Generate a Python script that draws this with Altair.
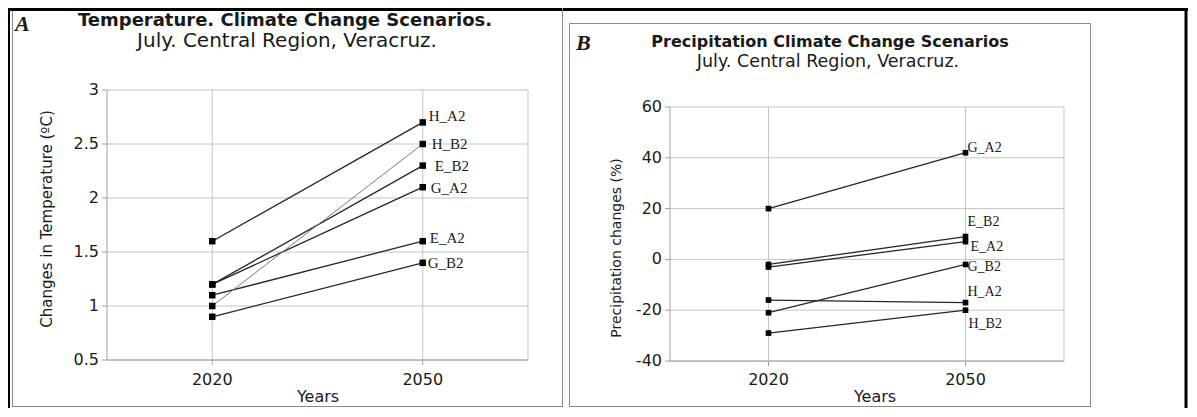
import altair as alt
import pandas as pd

# ---------------- data ----------------
years = [2020, 2050]
year_labels = ["2020", "2050"]

temp_series = ["H_A2", "H_B2", "E_B2", "G_A2", "E_A2", "G_B2"]
temp_2020 = [1.6, 1.0, 1.2, 1.2, 1.1, 0.9]
temp_2050 = [2.7, 2.5, 2.3, 2.1, 1.6, 1.4]
temp_ticks = [0.5, 1, 1.5, 2, 2.5, 3]
temp_tick_labels = ["0.5", "1", "1.5", "2", "2.5", "3"]

prec_series = ["G_A2", "E_B2", "E_A2", "G_B2", "H_A2", "H_B2"]
prec_2020 = [20, -2, -3, -21, -16, -29]
prec_2050 = [42, 9, 7, -2, -17, -20]
prec_ticks = [-40, -20, 0, 20, 40, 60]
prec_tick_labels = ["-40", "-20", "0", "20", "40", "60"]

# ---------------- layout / style ----------------
W, H = 1180, 400
SANS = "DejaVu Sans"
SERIF = "Liberation Serif"
GRID = "#c4c4c4"
AXIS = "#a0a0a0"
BOX = "#8c8c8c"
INK = "#1a1a1a"

temp_label_off = {"H_A2": (6, -6), "H_B2": (9, 0), "E_B2": (12, 0),
                  "G_A2": (8, 1), "E_A2": (7, -3), "G_B2": (5, 0)}
prec_label_off = {"G_A2": (2, -5), "E_B2": (2, -15), "E_A2": (5, 5),
                  "G_B2": (2, 3), "H_A2": (2, -11), "H_B2": (3, 14)}

one = alt.Data(values=[{"a": 1}])


def txt(text, x, y, size, bold=False, italic=False, font=SANS, align="center",
        angle=0, baseline="alphabetic", color=INK):
    return alt.Chart(one).mark_text(
        text=text, fontSize=size, fontWeight="bold" if bold else "normal",
        fontStyle="italic" if italic else "normal", font=font, align=align,
        baseline=baseline, angle=angle, color=color,
    ).encode(x=alt.value(x), y=alt.value(y))


def hrule(x1, x2, y, color, width):
    return alt.Chart(one).mark_rule(color=color, strokeWidth=width).encode(
        x=alt.value(x1), x2=alt.value(x2), y=alt.value(y))


def vrule(x, y1, y2, color, width):
    return alt.Chart(one).mark_rule(color=color, strokeWidth=width).encode(
        x=alt.value(x), y=alt.value(y1), y2=alt.value(y2))


def panel(xr, yr, ydom, ticks, tick_labels, series, v0, v1, offsets,
          label_size, sq, light=None, xlab_y=372):
    xs = alt.Scale(domain=[2005, 2065], range=xr, nice=False, zero=False)
    ys = alt.Scale(domain=ydom, range=yr, nice=False, zero=False)
    L = []
    tick_df = pd.DataFrame({"v": ticks, "lab": tick_labels})
    # horizontal gridlines
    L.append(alt.Chart(tick_df).mark_rule(color=GRID, strokeWidth=1).encode(
        y=alt.Y("v:Q", scale=ys, axis=None),
        x=alt.XDatum(2005, scale=xs, axis=None), x2=alt.X2Datum(2065)))
    # vertical gridlines + right frame
    vdf = pd.DataFrame({"yr": years + [2065]})
    L.append(alt.Chart(vdf).mark_rule(color=GRID, strokeWidth=1).encode(
        x=alt.X("yr:Q", scale=xs, axis=None),
        y=alt.YDatum(ydom[0], scale=ys, axis=None), y2=alt.Y2Datum(ydom[1])))
    # axis lines
    L.append(alt.Chart(one).mark_rule(color=AXIS, strokeWidth=1).encode(
        x=alt.XDatum(2005, scale=xs, axis=None),
        y=alt.YDatum(ydom[0], scale=ys, axis=None), y2=alt.Y2Datum(ydom[1])))
    L.append(alt.Chart(one).mark_rule(color=AXIS, strokeWidth=1).encode(
        y=alt.YDatum(ydom[0], scale=ys, axis=None),
        x=alt.XDatum(2005, scale=xs, axis=None), x2=alt.X2Datum(2065)))
    # tick marks
    L.append(alt.Chart(tick_df).mark_rule(color=AXIS, strokeWidth=1).encode(
        y=alt.Y("v:Q", scale=ys, axis=None),
        x=alt.value(xr[0] - 5), x2=alt.value(xr[0])))
    ydf = pd.DataFrame({"yr": years, "lab": year_labels})
    L.append(alt.Chart(ydf).mark_rule(color=AXIS, strokeWidth=1).encode(
        x=alt.X("yr:Q", scale=xs, axis=None),
        y=alt.value(yr[0]), y2=alt.value(yr[0] + 5)))
    # tick labels
    L.append(alt.Chart(tick_df).mark_text(
        align="right", baseline="middle", font=SANS, fontSize=16, color=INK,
        dx=-8).encode(
        y=alt.Y("v:Q", scale=ys, axis=None), x=alt.value(xr[0]), text="lab:N"))
    L.append(alt.Chart(ydf).mark_text(
        align="center", baseline="middle", font=SANS, fontSize=16, color=INK).encode(
        x=alt.X("yr:Q", scale=xs, axis=None), y=alt.value(xlab_y), text="lab:N"))
    # series
    rows = []
    for s, a, b in zip(series, v0, v1):
        rows.append({"s": s, "yr": years[0], "v": a})
        rows.append({"s": s, "yr": years[1], "v": b})
    df = pd.DataFrame(rows)
    dark = df[df.s != light] if light else df
    L.append(alt.Chart(dark).mark_line(color="#262626", strokeWidth=1.3).encode(
        x=alt.X("yr:Q", scale=xs, axis=None), y=alt.Y("v:Q", scale=ys, axis=None),
        detail="s:N"))
    if light:
        L.append(alt.Chart(df[df.s == light]).mark_line(
            color="#7a7a7a", strokeWidth=1).encode(
            x=alt.X("yr:Q", scale=xs, axis=None),
            y=alt.Y("v:Q", scale=ys, axis=None)))
    L.append(alt.Chart(df).mark_square(size=sq, color="#000", opacity=1).encode(
        x=alt.X("yr:Q", scale=xs, axis=None), y=alt.Y("v:Q", scale=ys, axis=None)))
    # end labels
    for s, b in zip(series, v1):
        dx, dy = offsets[s]
        ldf = pd.DataFrame({"yr": [years[1]], "v": [b], "s": [s]})
        L.append(alt.Chart(ldf).mark_text(
            align="left", baseline="middle", font=SERIF, fontSize=label_size,
            color=INK, dx=dx, dy=dy).encode(
            x=alt.X("yr:Q", scale=xs, axis=None),
            y=alt.Y("v:Q", scale=ys, axis=None), text="s:N"))
    return L


layers = []
# frames
layers += [
    hrule(0, W, 1.5, "#000", 3),
    vrule(1, 0, H, "#000", 2),
    vrule(W - 2, 0, H, "#000", 3),
    vrule(4.5, 3, 399, BOX, 1),
    hrule(4.5, 554.5, 398.5, BOX, 1),
    vrule(554.5, 0, 399, BOX, 1),
    vrule(561.5, 15.5, 399, BOX, 1),
    hrule(561.5, 1082.5, 15.5, BOX, 1),
    hrule(561.5, 1082.5, 398.5, BOX, 1),
    vrule(1082.5, 15.5, 399, BOX, 1),
]

# Panel A
layers += panel([99, 520], [352, 82], [0.5, 3], temp_ticks, temp_tick_labels,
                temp_series, temp_2020, temp_2050, temp_label_off, 15, 42,
                light="H_B2")
layers += [
    txt("A", 7, 23, 22, bold=True, italic=True, font=SERIF, align="left"),
    txt("Temperature. Climate Change Scenarios.", 277, 18, 18, bold=True),
    txt("July. Central Region, Veracruz.", 279, 39, 20),
    txt("Changes in Temperature (ºC)", 39, 211, 15, angle=270, baseline="middle"),
    txt("Years", 310, 389, 16, baseline="middle"),
]

# Panel B
layers += panel([662, 1056], [353, 99], [-40, 60], prec_ticks, prec_tick_labels,
                prec_series, prec_2020, prec_2050, prec_label_off, 14, 32)
layers += [
    txt("B", 568, 42, 22, bold=True, italic=True, font=SERIF, align="left"),
    txt("Precipitation Climate Change Scenarios", 822, 39, 16, bold=True),
    txt("July. Central Region, Veracruz.", 820, 59, 17.5),
    txt("Precipitation changes (%)", 609, 240, 14, angle=270, baseline="middle"),
    txt("Years", 867, 389, 16, baseline="middle"),
]

chart = alt.layer(*layers).resolve_scale(
    x="independent", y="independent"
).properties(
    width=W, height=H, padding=0, background="white",
    autosize=alt.AutoSizeParams(type="none"),
).configure_view(stroke=None)

chart.save("out.html", embed_options={"renderer": "svg", "actions": False})
